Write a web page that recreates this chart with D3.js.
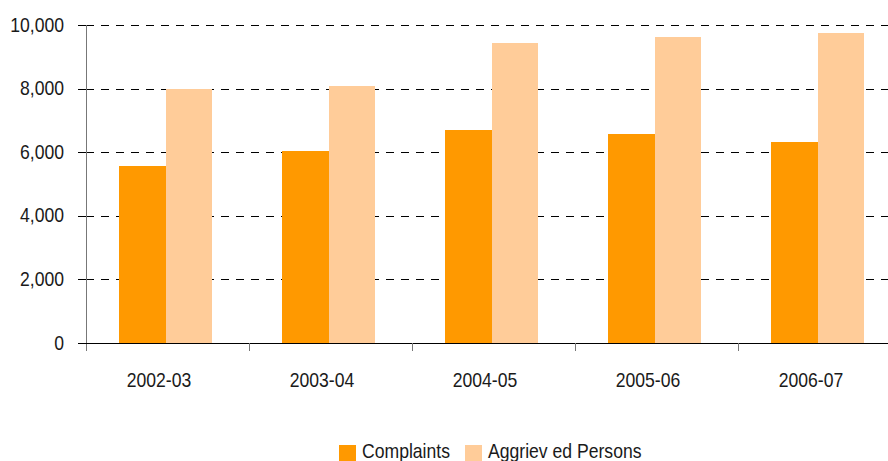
<!DOCTYPE html>
<html>
<head>
<meta charset="utf-8">
<script src="https://cdn.jsdelivr.net/npm/d3@7"></script>
<style>
  body { margin: 0; background: #fff; }
  text { font-family: "Liberation Sans", Arial, sans-serif; fill: #1a1a1a; font-size: 20px; }
</style>
</head>
<body>
<div id="chart"></div>
<script>
// data
var jaren = ["2002-03", "2003-04", "2004-05", "2005-06", "2006-07"];
var reeksen = ["Complaints", "Aggrieved Persons"];
var legendaTekst = ["Complaints", "Aggriev ed Persons"];
var klachten = [5570, 6040, 6700, 6570, 6320];
var gedupeerden = [7980, 8080, 9430, 9620, 9750];
var yTicks = [0, 2000, 4000, 6000, 8000, 10000];
var kleuren = ["#FF9900", "#FFCC99"];

var breedte = 888, hoogte = 461;
var marge = {boven: 25, links: 86, onder: 343};
var smal = 0.88; // lettertype smaller maken (narrow)

var svg = d3.select("#chart").append("svg")
            .attr("width", breedte)
            .attr("height", hoogte);

var y = d3.scaleLinear().domain([0, 10000]).range([marge.onder, marge.boven]);
var x0 = d3.scaleBand().domain(jaren).range([marge.links, marge.links + 5 * 163]);
var x1 = d3.scaleBand().domain(reeksen).range([33, 126]);

// tekst op positie zetten en horizontaal smaller maken
function smalleTekst(sel, xf, yf) {
  sel.attr("x", 0).attr("y", 0)
     .attr("transform", function(d, i) {
       return "translate(" + xf(d, i) + "," + yf(d, i) + ") scale(" + smal + ",1)";
     });
}

// stippellijnen
svg.append("g").selectAll("line")
   .data(yTicks.filter(function(d) { return d > 0; }))
   .enter().append("line")
   .attr("x1", marge.links).attr("x2", breedte)
   .attr("y1", function(d) { return Math.round(y(d)) + 0.5; })
   .attr("y2", function(d) { return Math.round(y(d)) + 0.5; })
   .attr("stroke", "#000")
   .attr("stroke-width", 1)
   .attr("stroke-dasharray", "8,7");

// staven
var data = jaren.map(function(j, i) {
  return {jaar: j, waarden: [klachten[i], gedupeerden[i]]};
});

var groep = svg.append("g").selectAll("g")
               .data(data)
               .enter().append("g")
               .attr("transform", function(d) { return "translate(" + x0(d.jaar) + ",0)"; });

groep.selectAll("rect")
     .data(function(d) { return d.waarden.map(function(v, k) { return {reeks: reeksen[k], waarde: v, k: k}; }); })
     .enter().append("rect")
     .attr("x", function(d) { return x1(d.reeks); })
     .attr("width", x1.bandwidth())
     .attr("y", function(d) { return y(d.waarde); })
     .attr("height", function(d) { return y(0) - y(d.waarde); })
     .attr("fill", function(d) { return kleuren[d.k]; })
     .attr("shape-rendering", "crispEdges");

// y-as
var yAs = svg.append("g").attr("transform", "translate(" + marge.links + ",0)")
             .call(d3.axisLeft(y).tickValues(yTicks).tickSize(8).tickPadding(12)
                   .tickFormat(d3.format(",")));
yAs.select(".domain").remove();
yAs.selectAll("line").attr("stroke", "#000").attr("shape-rendering", "crispEdges");
yAs.selectAll("text").attr("fill", "#1a1a1a").attr("dy", null)
   .call(smalleTekst, function() { return -22; }, function() { return 6; });
yAs.append("line")
   .attr("x1", 0.5).attr("x2", 0.5)
   .attr("y1", marge.boven).attr("y2", marge.onder + 8)
   .attr("stroke", "#777");

// x-as
var xAs = svg.append("g").attr("transform", "translate(0," + marge.onder + ")");
xAs.append("line")
   .attr("x1", marge.links - 8).attr("x2", breedte)
   .attr("y1", 0.5).attr("y2", 0.5)
   .attr("stroke", "#000");
xAs.selectAll(".tik")
   .data(jaren.slice(1))
   .enter().append("line")
   .attr("class", "tik")
   .attr("x1", function(d) { return x0(d) + 0.5; })
   .attr("x2", function(d) { return x0(d) + 0.5; })
   .attr("y1", 0).attr("y2", 8)
   .attr("stroke", "#777");
xAs.selectAll("text")
   .data(jaren)
   .enter().append("text")
   .attr("text-anchor", "middle")
   .text(function(d) { return d; })
   .call(smalleTekst, function(d) { return x0(d) + 73; }, function() { return 44; });

// legenda
var legenda = svg.append("g");
var legX = [339, 465];
legenda.selectAll("rect")
       .data(legendaTekst)
       .enter().append("rect")
       .attr("x", function(d, i) { return legX[i]; })
       .attr("y", 445)
       .attr("width", 17).attr("height", 17)
       .attr("fill", function(d, i) { return kleuren[i]; });
legenda.selectAll("text")
       .data(legendaTekst)
       .enter().append("text")
       .text(function(d) { return d; })
       .call(smalleTekst, function(d, i) { return legX[i] + 23; }, function() { return 458; });
</script>
</body>
</html>
